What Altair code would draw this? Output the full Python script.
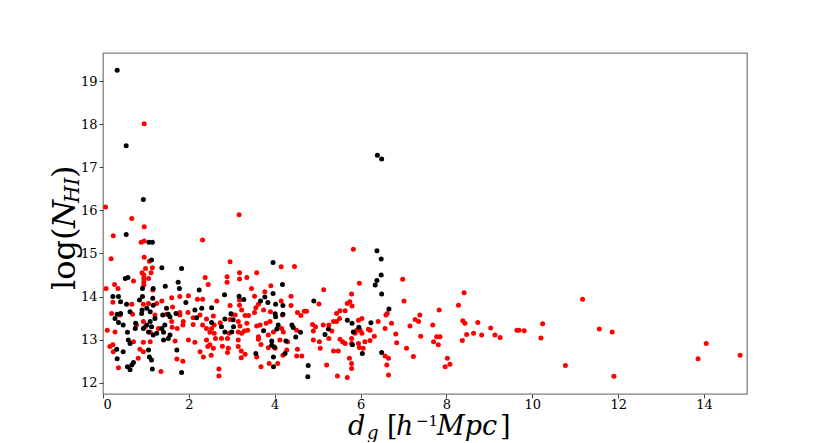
import altair as alt
import pandas as pd

# ---- data (d_g in h^-1 Mpc, log N_HI) ----
red_d = [0.96, 0.06, 0.67, 3.17,
    0.24, 0.96, 0.96, 0.89, 0.19, 0.96, 1.08, 2.32, 0.07, 0.27, 0.35, 0.71, 0.95, 0.95, 0.95, 0.95,
    0.99, 0.91, 1.15, 1.12, 1.06, 1.16, 2.38, 2.45, 1.60, 1.79, 1.99, 2.20, 2.32, 0.23, 0.67, 0.94,
    1.06, 1.25, 1.37, 1.62, 1.79, 1.98, 0.20, 0.40, 0.69, 0.94, 1.21, 1.48, 1.60, 1.79, 1.87, 2.10,
    2.26, 2.41, 2.32, 0.10, 0.28, 0.78, 0.98, 1.10, 1.29, 1.61, 1.73, 1.86, 2.10, 2.41, 0.23, 0.16,
    0.24, 0.71, 0.94, 1.10, 0.86, 1.68, 1.99, 2.14, 2.41, 2.49, 0.36, 0.82, 0.94, 1.35, 1.72, 1.86,
    2.26, 2.34, 2.44,
    2.96, 4.15, 4.46, 3.18, 3.58, 2.89, 3.18, 3.35, 2.89, 3.46, 3.91, 3.77, 3.53, 2.65, 2.96, 3.18,
    3.18, 4.15, 4.38, 3.62, 3.56, 4.38, 5.14, 5.03, 3.23, 3.08, 2.57, 3.00, 3.31, 3.39, 3.53, 3.74,
    3.90, 4.18, 4.53, 4.69, 4.74, 4.61, 2.73, 2.53, 2.59, 2.96, 3.15, 3.19, 3.35, 3.58, 3.66, 3.80,
    3.89, 4.16, 4.88, 4.95, 5.13, 5.26, 5.37, 2.49, 2.59, 2.94, 3.15, 3.23, 3.29, 3.37, 3.62, 3.85,
    3.97, 4.20, 4.51, 4.90, 5.33, 2.62, 2.76, 2.90, 3.15, 3.62, 3.68, 4.12, 4.30, 4.90, 5.04, 5.26,
    2.57, 2.78, 2.92, 3.15, 3.85, 4.01, 4.28, 4.53, 5.06, 5.37, 2.52, 2.90, 3.22, 3.31, 3.58, 4.19,
    4.51, 4.63, 3.22, 3.68, 3.87, 4.07, 5.21, 2.70, 2.70,
    5.83, 5.97, 6.98, 5.79, 7.01, 5.69, 5.75, 5.80, 5.44, 5.52, 5.64, 5.44, 5.51, 5.95, 6.03, 5.99,
    5.91, 5.87, 6.03, 6.18, 6.22, 6.41, 6.59, 6.62, 6.72, 6.57, 6.82, 6.84, 6.32, 6.22, 6.06, 5.52,
    5.58, 5.64, 5.79, 5.79, 5.95, 5.97, 6.10, 5.48, 5.74, 5.79, 5.79, 5.46, 5.69, 6.57, 6.65, 6.61,
    6.65, 7.07, 7.23, 7.15, 7.27, 7.35, 7.38, 7.40, 7.68, 7.70, 7.77, 7.85, 7.81, 7.83, 8.02, 7.97,
    8.08, 8.28,
    8.41, 8.38, 8.43, 8.47, 8.37, 8.63, 8.73, 8.82, 9.03, 9.13, 9.25, 9.64, 9.69, 9.81, 10.20, 10.24,
    10.77, 11.17, 11.56, 11.86, 11.90, 13.86, 14.05, 14.84]
red_logN = [18.01, 16.08, 15.81, 15.90,
    15.41, 15.62, 15.29, 15.26, 14.88, 14.91, 14.82, 15.31, 14.19, 14.28, 14.19, 14.36, 14.50, 14.42, 14.34, 14.27,
    14.65, 14.55, 14.67, 14.55, 14.42, 14.15, 14.44, 14.28, 13.97, 14.00, 14.02, 13.94, 13.94, 13.87, 13.82, 13.82,
    13.84, 13.84, 13.90, 13.76, 13.63, 13.63, 13.61, 13.57, 13.59, 13.42, 13.57, 13.59, 13.42, 13.57, 13.42, 13.51,
    13.57, 13.48, 13.34, 13.22, 13.18, 13.34, 13.30, 13.17, 13.26, 13.29, 13.26, 13.34, 13.35, 13.26, 12.88, 12.84,
    12.72, 12.95, 12.94, 12.95, 12.78, 12.97, 12.99, 12.94, 12.99, 12.88, 12.35, 12.57, 12.72, 12.26, 12.55, 12.50,
    12.72, 12.60, 12.84,
    14.81, 14.69, 14.70, 14.55, 14.55, 14.46, 14.41, 14.44, 14.33, 14.19, 14.25, 14.11, 14.01, 13.90, 13.79, 13.92,
    13.80, 13.90, 14.01, 13.82, 13.74, 13.79, 14.16, 13.83, 13.69, 13.57, 13.55, 13.59, 13.56, 13.56, 13.63, 13.69,
    13.65, 13.57, 13.63, 13.66, 13.66, 13.56, 13.39, 13.26, 13.34, 13.47, 13.42, 13.32, 13.38, 13.32, 13.34, 13.38,
    13.42, 13.26, 13.35, 13.30, 13.34, 13.34, 13.42, 13.17, 13.15, 13.15, 13.18, 13.15, 13.20, 13.22, 13.07, 13.11,
    13.18, 13.18, 13.22, 13.20, 13.20, 13.03, 13.03, 13.03, 12.99, 13.01, 12.89, 12.99, 12.95, 12.99, 12.95, 13.03,
    12.80, 12.85, 12.80, 12.84, 12.81, 12.80, 12.76, 12.78, 12.80, 12.74, 12.64, 12.70, 12.74, 12.66, 12.60, 12.64,
    12.62, 12.62, 12.58, 12.37, 12.45, 12.45, 12.41, 12.32, 12.16,
    15.10, 14.31, 14.40, 14.06, 13.90, 13.84, 13.88, 13.78, 13.61, 13.67, 13.67, 13.42, 13.49, 13.45, 13.49, 13.22,
    13.22, 13.15, 13.15, 13.24, 13.22, 13.42, 13.57, 13.61, 13.38, 13.26, 13.13, 12.93, 13.08, 12.98, 12.80, 13.01,
    12.95, 12.91, 13.03, 12.91, 12.91, 12.82, 12.95, 12.74, 12.57, 12.45, 12.33, 12.16, 12.12, 12.62, 12.57, 12.41,
    12.18, 12.80, 12.61, 13.32, 13.47, 13.42, 13.57, 13.08, 13.34, 12.95, 13.07, 13.07, 12.88, 13.69, 12.57, 12.37,
    12.43, 13.80,
    14.09, 13.44, 13.38, 13.12, 12.98, 13.15, 13.40, 13.11, 13.27, 13.11, 13.05, 13.22, 13.22, 13.21, 13.04, 13.37,
    12.40, 13.94, 13.25, 13.18, 12.15, 12.56, 12.91, 12.64]

black_d = [0.33, 0.54, 0.94, 6.39, 6.49,
    0.54, 1.07, 1.15, 1.13, 1.37, 1.83, 0.52, 0.58, 0.92, 1.17, 1.45, 1.75, 1.78, 2.24, 0.23, 0.36,
    0.41, 0.55, 0.33, 0.41, 0.28, 0.36, 0.47, 0.57, 0.63, 0.85, 0.92, 0.91, 0.90, 1.02, 1.10, 1.17,
    1.16, 1.21, 1.10, 1.02, 0.94, 1.13, 1.06, 1.17, 1.25, 1.37, 1.44, 1.48, 1.52, 1.39, 1.56, 1.70,
    1.93, 2.14, 2.18, 2.30, 1.41, 1.52, 1.72, 0.59, 0.63, 0.32, 0.33, 0.67, 0.57, 0.63, 0.71, 1.06,
    1.08, 1.13, 1.15, 1.83, 0.47, 1.41, 1.56, 0.75, 0.76,
    3.96, 4.18, 2.83, 3.17, 3.28, 3.67, 3.77, 3.96, 4.02, 2.53, 3.84, 4.19, 4.91, 2.98, 2.84, 3.03,
    4.01, 4.02, 4.19, 2.53, 2.76, 2.84, 3.00, 3.04, 4.08, 4.05, 4.40, 4.43, 4.60, 5.25, 5.17, 3.74,
    4.49, 3.93, 4.26, 3.93, 3.99, 3.56, 4.24, 3.97, 3.97, 4.78, 4.77,
    6.38, 6.48, 6.48, 6.38, 6.34, 6.49, 6.66, 5.69, 5.80, 5.96, 6.24, 5.83, 5.81, 6.04, 6.49]
black_logN = [19.25, 17.50, 16.25, 17.28, 17.19,
    15.44, 15.26, 15.26, 14.85, 14.67, 14.65, 14.42, 14.44, 14.19, 14.19, 14.24, 14.33, 14.19, 14.15, 14.00, 14.00,
    13.88, 13.82, 13.59, 13.61, 13.49, 13.40, 13.34, 13.17, 13.65, 13.92, 14.00, 13.69, 13.61, 13.73, 13.65, 13.80,
    13.96, 13.49, 13.42, 13.34, 13.26, 13.30, 13.18, 13.11, 13.15, 13.26, 13.34, 13.73, 13.59, 13.57, 13.53, 13.61,
    13.86, 13.69, 13.51, 13.73, 12.99, 13.03, 12.76, 12.99, 12.91, 12.78, 12.56, 12.41, 12.37, 12.30, 12.47, 12.76,
    12.60, 12.53, 12.32, 12.24, 12.72, 13.17, 13.11, 13.26, 13.38,
    14.79, 14.28, 14.04, 14.01, 13.93, 13.90, 13.99, 14.07, 13.82, 13.74, 13.86, 13.79, 13.90, 13.60, 13.48, 13.46,
    13.60, 13.53, 13.59, 13.40, 13.30, 13.18, 13.18, 13.30, 13.34, 13.25, 13.34, 13.28, 13.17, 13.25, 13.12, 13.21,
    13.06, 12.97, 12.97, 12.87, 12.83, 12.68, 12.68, 12.60, 12.37, 12.40, 12.14,
    15.06, 14.87, 14.50, 14.37, 14.27, 14.06, 13.71, 13.45, 13.38, 13.29, 13.39, 13.18, 12.88, 12.68, 12.70]

x_ticks = [0, 2, 4, 6, 8, 10, 12, 14]
y_ticks = [12, 13, 14, 15, 16, 17, 18, 19]

red_df = pd.DataFrame({"d": red_d, "logN": red_logN})
black_df = pd.DataFrame({"d": black_d, "logN": black_logN})

SERIF = "DejaVu Serif"

xscale = alt.Scale(domain=[0, 15], nice=False, zero=False)
yscale = alt.Scale(domain=[11.74, 19.65], nice=False, zero=False)

xaxis = alt.Axis(values=x_ticks, title=None, grid=False, domain=False, tickSize=4,
                 tickColor="#444", labelFont=SERIF, labelFontSize=13, labelColor="black",
                 labelPadding=0, format="d")
yaxis = alt.Axis(values=y_ticks, title=None, grid=False, domain=False, tickSize=4,
                 tickColor="#444", labelFont=SERIF, labelFontSize=13, labelColor="black",
                 labelPadding=2, format="d")


def scatter(df, color):
    return alt.Chart(df).mark_circle(size=25, opacity=1, color=color).encode(
        x=alt.X("d:Q", scale=xscale, axis=xaxis),
        y=alt.Y("logN:Q", scale=yscale, axis=yaxis),
    )


one = pd.DataFrame({"k": [0]})


def txt(s, x, y, size, italic=False, angle=0):
    kw = dict(text=s, font=SERIF, fontSize=size, align="left", baseline="alphabetic",
              color="black")
    if italic:
        kw["fontStyle"] = "italic"
    if angle:
        kw["angle"] = angle
    return alt.Chart(one).mark_text(**kw).encode(x=alt.value(x), y=alt.value(y))


# y title: log(N_HI), rotated
ytitle = [
    txt("log(", -28, 237, 32, angle=270),
    txt("N", -28, 175, 32, italic=True, angle=270),
    txt("HI", -24.5, 150, 20, italic=True, angle=270),
    txt(")", -28, 125, 32, angle=270),
]
# x title: d_g [h^-1 Mpc]
xtitle = [
    txt("d", 245, 382, 27, italic=True),
    txt("g", 264, 386, 18, italic=True),
    txt("[", 284, 382, 27),
    txt("h", 293, 382, 27, italic=True),
    txt("\u22121", 313, 373, 15),
    txt("Mpc", 334, 382, 27, italic=True),
    txt("]", 397, 382, 27),
]

chart = alt.layer(scatter(red_df, "#ff0000"), scatter(black_df, "#000000"), *ytitle, *xtitle).properties(
    width=644, height=341,
    autosize=alt.AutoSizeParams(type="none"),
    padding={"left": 95, "top": 45, "right": 60, "bottom": 48},
).configure_view(stroke="#808080", strokeWidth=1.3)

chart.save("out.html", embed_options={"renderer": "svg", "actions": False})
